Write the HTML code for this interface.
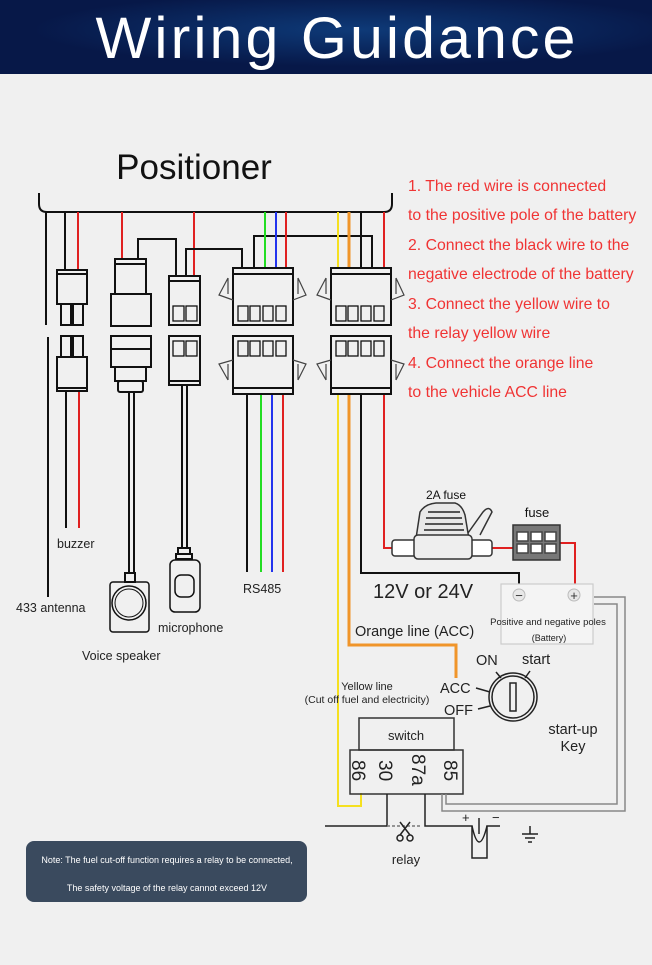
<!DOCTYPE html>
<html><head><meta charset="utf-8"><style>
body{margin:0;width:652px;height:960px;background:#f0f0f0;overflow:hidden;font-family:"Liberation Sans",sans-serif}
</style></head><body>
<svg width="652" height="960" viewBox="0 0 652 960" xmlns="http://www.w3.org/2000/svg" font-family="Liberation Sans, sans-serif">
<defs><radialGradient id="hg" cx="0.55" cy="0.4" r="0.5"><stop offset="0" stop-color="#0e3a78"/><stop offset="1" stop-color="#071848"/></radialGradient></defs>
<rect width="652" height="960" fill="#f0f0f0"/>
<rect x="0" y="0" width="652" height="74" fill="url(#hg)"/>
<text x="337" y="58" fill="#fff" font-size="58" text-anchor="middle" letter-spacing="3" textLength="483" lengthAdjust="spacingAndGlyphs">Wiring Guidance</text>
<text x="194" y="179" font-size="35" text-anchor="middle" fill="#111">Positioner</text>
<g fill="#f03434" font-size="15.8">
<text x="408" y="191">1. The red wire is connected</text>
<text x="408" y="220">to the positive pole of the battery</text>
<text x="408" y="250">2. Connect the black wire to the</text>
<text x="408" y="279">negative electrode of the battery</text>
<text x="408" y="309">3. Connect the yellow wire to</text>
<text x="408" y="338">the relay yellow wire</text>
<text x="408" y="368">4. Connect the orange line</text>
<text x="408" y="397">to the vehicle ACC line</text>
</g>
<g fill="none" stroke-width="2">
<path d="M39 193 V204 Q39 212 47 212 H384 Q392 212 392 204 V193" stroke="#111"/>
<path d="M46 212 V325 M48 337 V597" stroke="#111"/>
<path d="M65 212 V270 M66 391 V528" stroke="#111"/>
<path d="M78 212 V270 M79 391 V528" stroke="#e02020"/>
<path d="M122 212 V259" stroke="#e02020"/>
<path d="M138 259 V239 H176 V276" stroke="#111"/>
<path d="M194 212 V276" stroke="#e02020"/>
<path d="M186 276 V249 H242 V268" stroke="#111"/>
<path d="M254 268 V236 H372 V268" stroke="#111"/>
<path d="M265 212 V268 M261 394 V572" stroke="#22dd22"/>
<path d="M276 212 V268 M272 394 V572" stroke="#2233ee"/>
<path d="M286 212 V268 M283 394 V572" stroke="#e02020"/>
<path d="M247 394 V572" stroke="#111"/>
<path d="M338 212 V268 M338 394 V806 H361 V793" stroke="#f5e020"/>
<path d="M349 212 V268 M349 394 V645 H456 V678" stroke="#f0952a" stroke-width="3"/>
<path d="M361 212 V268 M361 394 V573 H519 V586" stroke="#111"/>
<path d="M384 212 V268 M384 394 V548 H394 M492 548 H513 M560 543 H575 V586" stroke="#e02020"/>
</g>
<g fill="none" stroke="#111" stroke-width="2">
<rect x="57" y="270" width="30" height="34"/><line x1="57" y1="274" x2="87" y2="274"/>
<rect x="61" y="304" width="10" height="21"/><rect x="73" y="304" width="10" height="21"/>
<rect x="61" y="336" width="10" height="21"/><rect x="73" y="336" width="10" height="21"/>
<rect x="57" y="357" width="30" height="34"/><line x1="57" y1="388" x2="87" y2="388"/>
<rect x="115" y="259" width="31" height="35"/><line x1="115" y1="264" x2="146" y2="264"/>
<rect x="111" y="294" width="40" height="32"/>
<rect x="111" y="336" width="40" height="13"/><rect x="111" y="349" width="40" height="18"/>
<rect x="115" y="367" width="31" height="14"/><rect x="118" y="381" width="25" height="11" rx="2"/>
<path d="M129 392 V573 M134 392 V573"/>
<rect x="125" y="573" width="10" height="9"/>
<rect x="110" y="582" width="39" height="50" rx="3" stroke-width="1.5"/>
<circle cx="129" cy="603" r="17" stroke-width="1.5"/><circle cx="129" cy="603" r="14" stroke-width="1"/>
<rect x="169" y="276" width="31" height="49"/><line x1="169" y1="281" x2="200" y2="281"/>
<rect x="173" y="306" width="11" height="15" stroke-width="1.3"/><rect x="186" y="306" width="11" height="15" stroke-width="1.3"/>
<rect x="169" y="336" width="31" height="49"/><line x1="169" y1="381" x2="200" y2="381"/>
<rect x="173" y="341" width="11" height="15" stroke-width="1.3"/><rect x="186" y="341" width="11" height="15" stroke-width="1.3"/>
<path d="M182 385 V548 M187 385 V548"/>
<rect x="178" y="548" width="12" height="6"/><rect x="176" y="554" width="16" height="5"/>
<rect x="170" y="560" width="30" height="52" rx="5" stroke-width="1.5"/>
<rect x="175" y="575" width="19" height="22" rx="6" stroke-width="1.5"/>
</g>
<g fill="none" stroke="#111" stroke-width="2">
<g id="c1">
<rect x="233" y="268" width="60" height="57"/><line x1="233" y1="274" x2="293" y2="274"/>
<g stroke-width="1.3"><rect x="238" y="306" width="10" height="15"/><rect x="250" y="306" width="10" height="15"/><rect x="263" y="306" width="10" height="15"/><rect x="276" y="306" width="10" height="15"/></g>
<path d="M228 278 L219 295 L233 300 M228 278 L228 294" stroke-width="1.2" stroke="#444"/>
<path d="M298 278 L306 295 L293 300 M298 278 L298 294" stroke-width="1.2" stroke="#444"/>
<rect x="233" y="336" width="60" height="58"/><line x1="233" y1="388" x2="293" y2="388"/>
<g stroke-width="1.3"><rect x="238" y="341" width="10" height="15"/><rect x="250" y="341" width="10" height="15"/><rect x="263" y="341" width="10" height="15"/><rect x="276" y="341" width="10" height="15"/></g>
<path d="M233 360 L219 364 L228 380 M228 364 L228 380" stroke-width="1.2" stroke="#444"/>
<path d="M293 360 L306 364 L298 380 M298 364 L298 380" stroke-width="1.2" stroke="#444"/>
</g>
<use href="#c1" x="98"/>
</g>
<g fill="#222" font-size="12.5">
<text x="57" y="548">buzzer</text>
<text x="16" y="612">433 antenna</text>
<text x="158" y="632">microphone</text>
<text x="82" y="660">Voice speaker</text>
<text x="243" y="593">RS485</text>
</g>
<g stroke="#333" fill="#fff" stroke-width="1.5">
<path d="M420 512 Q425 504 436 503 H455 Q462 505 465 515 L470 545 H415 Z" fill="#e8e8e8"/>
<g stroke="#555" stroke-width="2"><line x1="428" y1="512" x2="460" y2="512"/><line x1="426" y1="518" x2="462" y2="518"/><line x1="425" y1="524" x2="463" y2="524"/><line x1="424" y1="530" x2="464" y2="530"/><line x1="424" y1="536" x2="465" y2="536"/></g>
<path d="M468 533 L483 512 Q489 505 492 512 L480 535" fill="#eee"/>
<rect x="392" y="540" width="24" height="16" rx="3"/><rect x="470" y="540" width="22" height="16" rx="3"/>
<rect x="414" y="535" width="58" height="24" rx="4" fill="#eee"/>
<rect x="513" y="525" width="47" height="35" fill="#777"/>
<g fill="#fff" stroke="#444"><rect x="517" y="532" width="11" height="9"/><rect x="531" y="532" width="11" height="9"/><rect x="545" y="532" width="11" height="9"/><rect x="517" y="544" width="11" height="9"/><rect x="531" y="544" width="11" height="9"/><rect x="545" y="544" width="11" height="9"/></g>
</g>
<text x="446" y="499" font-size="12" text-anchor="middle" fill="#111">2A fuse</text>
<text x="537" y="517" font-size="13" text-anchor="middle" fill="#111">fuse</text>
<text x="373" y="598" font-size="20" fill="#222">12V or 24V</text>
<rect x="501" y="584" width="92" height="60" fill="#f4f4f4" stroke="#ccc" stroke-width="1.2"/>
<circle cx="519" cy="595" r="6" fill="#e8e8e8" stroke="#bbb"/><text x="519" y="600" font-size="13" text-anchor="middle" fill="#333">−</text>
<circle cx="574" cy="595" r="6" fill="#e8e8e8" stroke="#bbb"/><text x="574" y="600" font-size="13" text-anchor="middle" fill="#333">+</text>
<text x="548" y="625" font-size="9.5" text-anchor="middle" fill="#222">Positive and negative poles</text>
<text x="549" y="641" font-size="9" text-anchor="middle" fill="#222">(Battery)</text>
<text x="355" y="636" font-size="14.5" fill="#222">Orange line (ACC)</text>
<text x="367" y="690" font-size="11" text-anchor="middle" fill="#222">Yellow line</text>
<text x="367" y="703" font-size="10.5" text-anchor="middle" fill="#222">(Cut off fuel and electricity)</text>
<g font-size="14.5" fill="#222"><text x="440" y="693">ACC</text><text x="444" y="715">OFF</text><text x="476" y="665">ON</text><text x="522" y="664">start</text>
<text x="573" y="734" text-anchor="middle">start-up</text><text x="573" y="751" text-anchor="middle">Key</text></g>
<g fill="none" stroke="#222" stroke-width="1.5">
<circle cx="513" cy="697" r="24"/><circle cx="513" cy="697" r="21"/>
<rect x="510" y="683" width="6" height="28"/>
<path d="M476 688 L490 692 M478 709 L490 706 M496 672 L501 678 M530 671 L525 678"/>
<rect x="359" y="718" width="95" height="32" stroke="#333"/>
<rect x="350" y="750" width="113" height="44" stroke="#333"/>
</g>
<text x="406" y="740" font-size="13" text-anchor="middle" fill="#222">switch</text>
<g font-size="19" fill="#222">
<text transform="translate(352 760) rotate(90)">86</text>
<text transform="translate(379 760) rotate(90)">30</text>
<text transform="translate(412 754) rotate(90)">87a</text>
<text transform="translate(444 760) rotate(90)">85</text>
</g>
<g fill="none" stroke="#888" stroke-width="1.5">
<path d="M446 794 V804 H617 V604 H594"/>
<path d="M442 794 V811 H625 V597 H594"/>
</g>
<g fill="none" stroke="#222" stroke-width="1.5">
<path d="M387 794 V826 H325"/>
<path d="M387 826 H420" stroke-dasharray="3 2" stroke="#777"/>
<path d="M425 794 V826 H472 V858 H487 V826 H500"/>
<path d="M472 826 Q479 858 487 826"/>
<path d="M479 818 V834"/>
<path d="M400 822 L410 835 M410 822 L400 835"/><circle cx="400" cy="838" r="3"/><circle cx="410" cy="838" r="3"/>
<path d="M530 826 V834 M522 834 H538 M525 838 H535 M528 842 H532"/>
</g>
<text x="462" y="822" font-size="13" fill="#222">+</text><text x="492" y="822" font-size="13" fill="#222">−</text>
<text x="406" y="864" font-size="13" text-anchor="middle" fill="#222">relay</text>
<rect x="26" y="841" width="281" height="61" rx="8" fill="#3a4a5e"/>
<text x="167" y="863" font-size="9" fill="#fff" text-anchor="middle">Note: The fuel cut-off function requires a relay to be connected,</text>
<text x="167" y="891" font-size="9" fill="#fff" text-anchor="middle">The safety voltage of the relay cannot exceed 12V</text>
</svg>
</body></html>
